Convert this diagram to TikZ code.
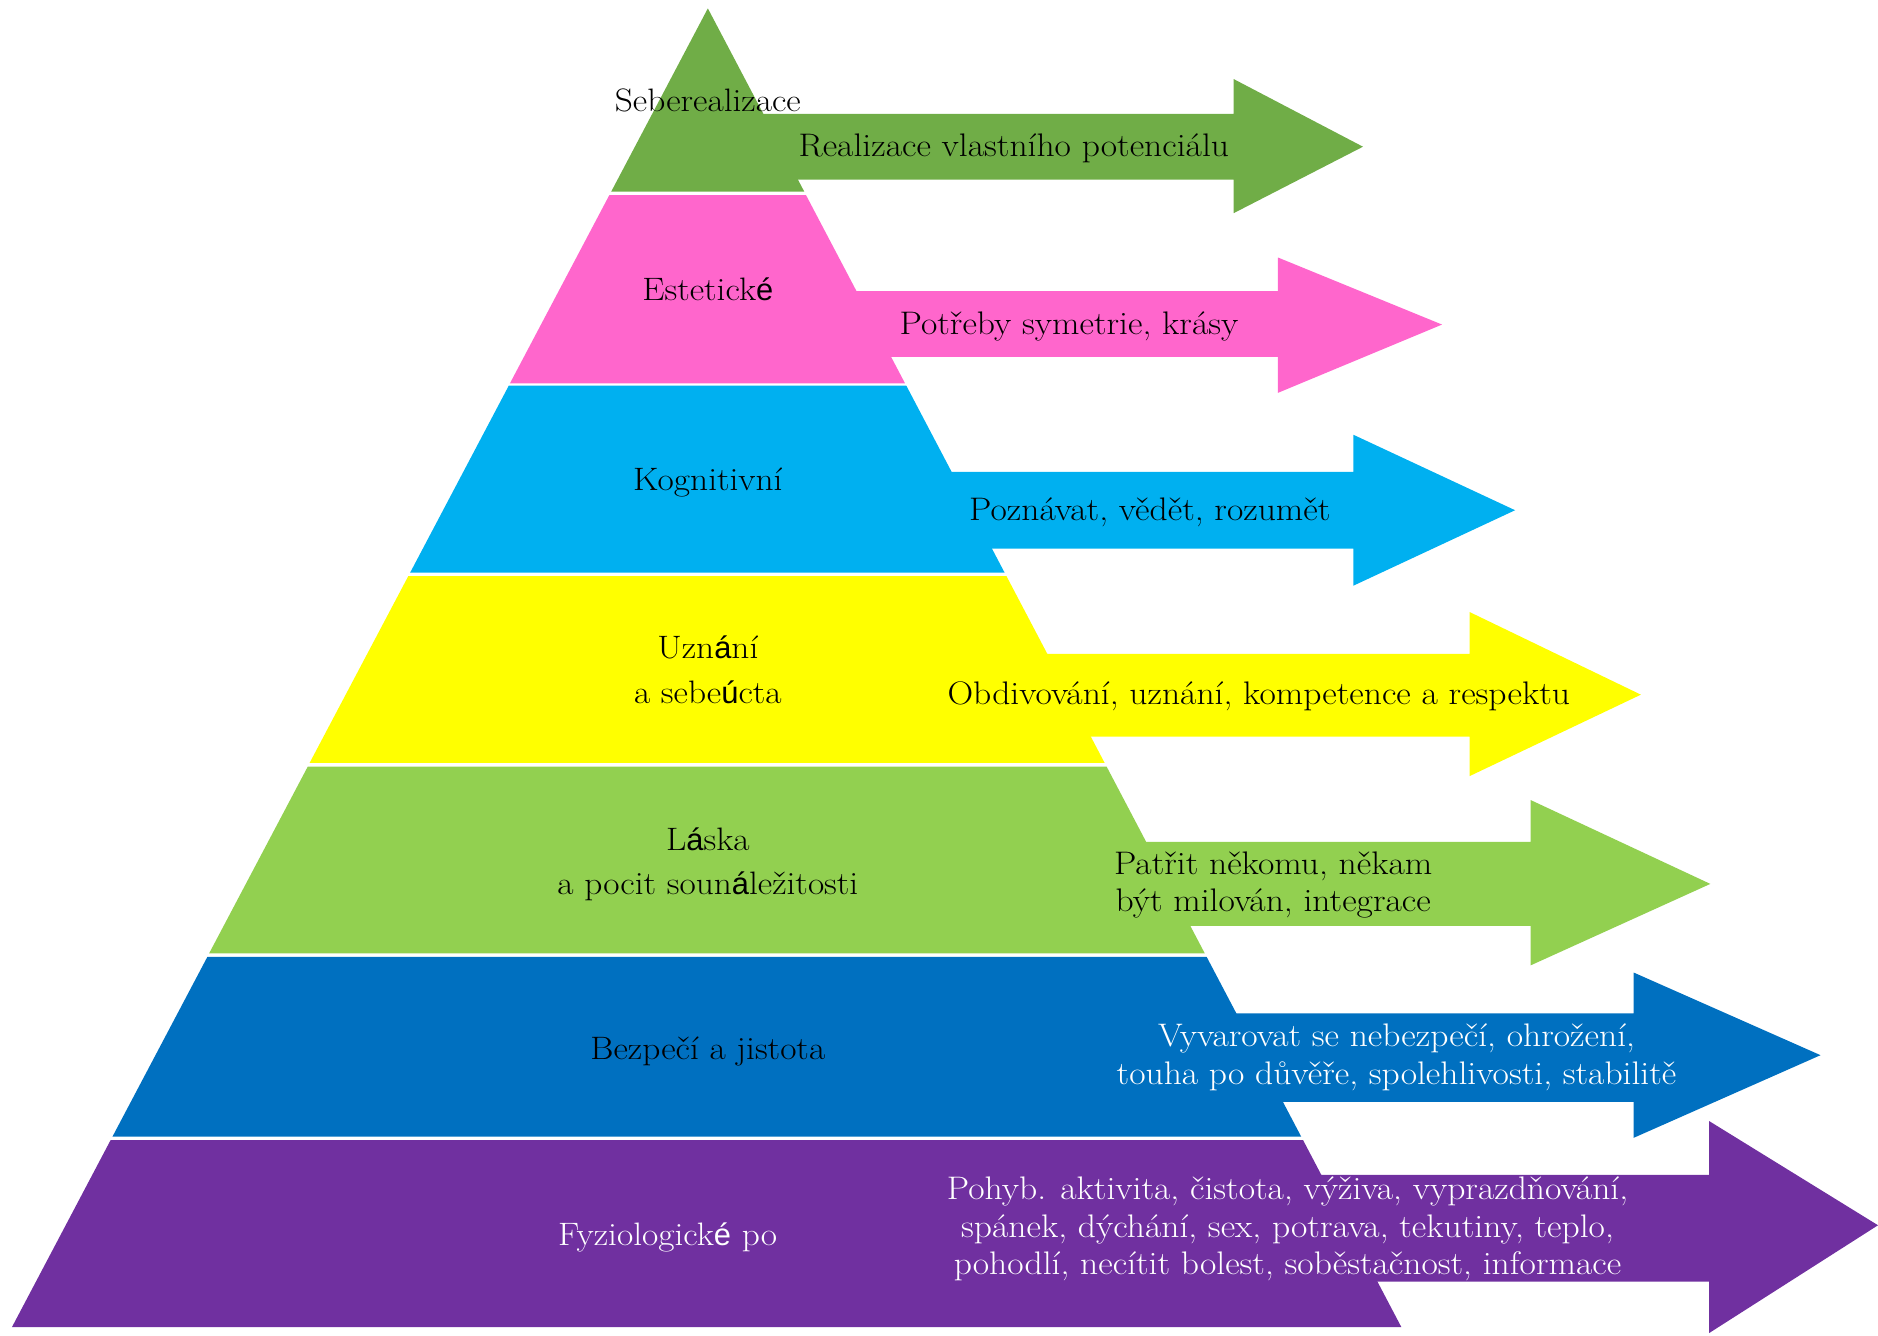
\documentclass[tikz,border=0pt]{standalone}
\usepackage{fontspec}
\setmainfont{Latin Modern Roman}[FakeStretch=1.09]
\newfontfamily\sanschar{Liberation Sans}[Scale=0.95]
\newcommand{\sch}[1]{{\sanschar #1}}
\newcommand{\twol}[2]{\begin{tabular}[t]{@{}c@{}}#1\\#2\end{tabular}}
\newcommand{\threel}[3]{\begin{tabular}[t]{@{}c@{}}#1\\#2\\#3\end{tabular}}
\definecolor{cA}{HTML}{70AD47}
\definecolor{cB}{HTML}{FF66CC}
\definecolor{cC}{HTML}{00B0F0}
\definecolor{cD}{HTML}{FFFF00}
\definecolor{cE}{HTML}{92D050}
\definecolor{cF}{HTML}{0070C0}
\definecolor{cG}{HTML}{7030A0}
\begin{document}
\begin{tikzpicture}[x=0.024cm,y=-0.024cm,
  lbl/.style={font=\fontsize{18.5}{25.3}\selectfont, anchor=base, inner sep=0pt, outer sep=0pt},
  atxt/.style={font=\fontsize{18.6}{21.5}\selectfont, anchor=base, inner sep=0pt, outer sep=0pt}]
\useasboundingbox (0,0) rectangle (1568,1115);
% pyramid layers
\fill[cA] (591,7) -- (671.5,160) -- (510.3,160) -- cycle;
\fill[cB] (508.7,163) -- (673,163) -- (755.6,320) -- (425.8,320) -- cycle;
\fill[cC] (424.8,322) -- (756.7,322) -- (838.7,478) -- (342.5,478) -- cycle;
\fill[cD] (340.9,481) -- (840.3,481) -- (922.3,637) -- (258.5,637) -- cycle;
\fill[cE] (257,640) -- (923.9,640) -- (1005.9,796) -- (174.6,796) -- cycle;
\fill[cF] (173.1,799) -- (1007.5,799) -- (1086.4,949) -- (93.9,949) -- cycle;
\fill[cG] (92.3,952) -- (1088,952) -- (1170,1108) -- (10,1108) -- cycle;
% arrows
\fill[cA] (600,95) -- (1030,95) -- (1030,66) -- (1138,122.5) -- (1030,178) -- (1030,150) -- (600,150) -- cycle;
\fill[cB] (600,243) -- (1067,243) -- (1067,215) -- (1204,271) -- (1067,328) -- (1067,298) -- (600,298) -- cycle;
\fill[cC] (600,394) -- (1130,394) -- (1130,363) -- (1265,426) -- (1130,489) -- (1130,458) -- (600,458) -- cycle;
\fill[cD] (700,546) -- (1227,546) -- (1227,511) -- (1370,580) -- (1227,648) -- (1227,615) -- (700,615) -- cycle;
\fill[cE] (700,703) -- (1278,703) -- (1278,668) -- (1428,738) -- (1278,806) -- (1278,773) -- (700,773) -- cycle;
\fill[cF] (700,846) -- (1364,846) -- (1364,812) -- (1520,881) -- (1364,950) -- (1364,920) -- (700,920) -- cycle;
\fill[cG] (700,981) -- (1427,981) -- (1427,936) -- (1568,1023) -- (1427,1113) -- (1427,1070) -- (700,1070) -- cycle;
% layer labels
\node[lbl] (l1) at (591,93) {Seberealizace};
\node[lbl] (l2) at (591,251) {Estetick\sch{é}};
\node[lbl] (l3) at (591,409.7) {Kognitivní};
\node[lbl] (l4) at (591,550.2) {\twol{Uzn\sch{á}ní}{a sebe\sch{ú}cta}};
\node[lbl] (l5) at (591,709.7) {\twol{L\sch{á}ska}{a pocit soun\sch{á}ležitosti}};
\node[lbl] (l6) at (591,885) {Bezpečí a jistota};
\node[lbl, anchor=base west, text=white] (l7) at (466,1039.5) {Fyziologick\sch{é} po};
% arrow texts
\node[atxt] (a1) at (846.5,130.8) {Realizace vlastního potenciálu};
\node[atxt] (a2) at (892.5,279.7) {Potřeby symetrie, krásy};
\node[atxt] (a3) at (960,434.2) {Poznávat, vědět, rozumět};
\node[atxt] (a4) at (1051,587.8) {Obdivování, uznání, kompetence a respektu};
\node[atxt] (a5) at (1063,729.8) {\twol{Patřit někomu, někam}{být milován, integrace}};
\node[atxt, text=white] (a6) at (1166,873.9) {\twol{Vyvarovat se nebezpečí, ohrožení,}{touha po důvěře, spolehlivosti, stabilitě}};
\node[atxt, text=white] (a7) at (1075,1001.4) {\threel{Pohyb. aktivita, čistota, výživa, vyprazdňování,}{spánek, dýchání, sex, potrava, tekutiny, teplo,}{pohodlí, necítit bolest, soběstačnost, informace}};
\end{tikzpicture}
\end{document}
